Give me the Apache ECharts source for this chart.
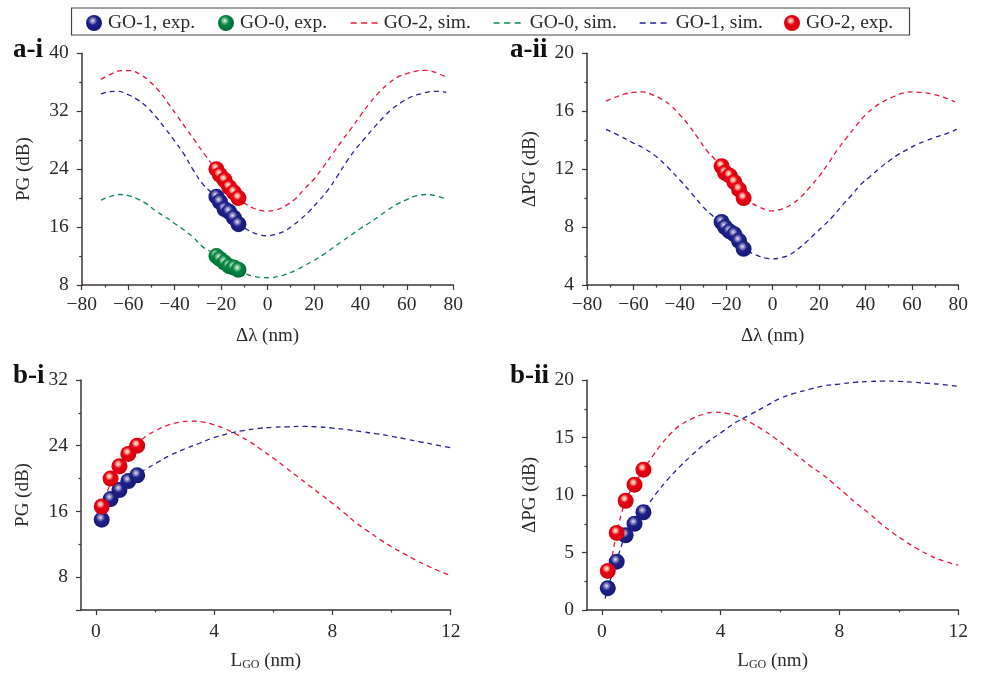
<![CDATA[<!DOCTYPE html>
<html><head><meta charset="utf-8">
<style>html,body{margin:0;padding:0;background:#fff}#c{width:981px;height:676px}</style>
<script src="https://cdn.jsdelivr.net/npm/echarts@6/dist/echarts.min.js"></script>
</head><body><div id="c"></div>
<script>
// ---- data read from the picture ----
const expDetuning = [-22, -20.5, -18.5, -16.5, -14.5, -12.5];
const expThickness = [0.2, 0.5, 0.8, 1.1, 1.4];

const aiGO2Exp = [24.0, 23.2, 22.5, 21.5, 20.8, 20.0];
const aiGO1Exp = [20.2, 19.5, 18.5, 18.1, 17.3, 16.4];
const aiGO0Exp = [12.0, 11.6, 11.1, 10.6, 10.4, 10.1];
const aiiGO2Exp = [12.2, 11.75, 11.55, 11.1, 10.6, 10.0];
const aiiGO1Exp = [8.35, 8.0, 7.7, 7.5, 7.05, 6.5];
const biGO2Exp = [16.6, 20.0, 21.5, 23.0, 24.0];
const biGO1Exp = [15.0, 17.5, 18.6, 19.7, 20.4];
const biiGO2Exp = [3.4, 6.7, 9.5, 10.9, 12.2];
const biiGO1Exp = [1.9, 4.2, 6.5, 7.5, 8.5];

const aiGO2Sim = [[-71.7,36.4],[-67,37.2],[-63,37.6],[-59,37.6],[-55,37.1],[-51,36.2],[-47,34.9],[-43,33.2],[-39,31.4],[-35,29.6],[-31,27.8],[-27,26],[-23,24.3],[-19,22.6],[-15,21],[-12,19.9],[-9,19.1],[-6,18.6],[-3,18.3],[0,18.2],[4,18.4],[8,19],[12,19.9],[16,21.3],[20,22.6],[24,24.3],[28,26.1],[32,27.9],[36,29.6],[40,31.4],[44,33.1],[48,34.6],[52,35.8],[56,36.7],[60,37.2],[64,37.55],[68,37.65],[72,37.4],[77,36.7]];
const aiGO1Sim = [[-71.7,34.4],[-68,34.7],[-64.5,34.75],[-60,34.3],[-56,33.6],[-52,32.6],[-48,31.2],[-44,29.6],[-40,27.9],[-36,26.1],[-32,23.9],[-28,22],[-24,20.7],[-22.3,20.2],[-20,19.3],[-16,17.8],[-12,16.4],[-9,15.7],[-6,15.2],[-3,14.9],[0,14.8],[3,14.95],[7,15.4],[10,16],[14,17],[18,18.2],[22,19.6],[26,21.1],[30,23],[34,25],[38,26.8],[42,28.3],[46,29.8],[50,31.2],[54,32.4],[58,33.3],[62,34],[66,34.4],[70,34.7],[73,34.75],[77,34.6]];
const aiGO0Sim = [[-71.7,19.7],[-68,20.2],[-63.5,20.5],[-60,20.35],[-56,19.9],[-52,19.2],[-48,18.2],[-44,17.4],[-40,16.5],[-36,15.6],[-32,14.6],[-28,13.3],[-24,12.5],[-22,12],[-18,11.1],[-14,10.5],[-12,10.1],[-9,9.5],[-6,9.2],[-3,9.05],[1,9],[5,9.2],[8,9.5],[12,10],[16,10.7],[20,11.4],[24,12.2],[28,13.1],[32,14],[36,14.9],[40,15.8],[44,16.6],[48,17.5],[52,18.4],[56,19.2],[60,19.8],[64,20.3],[68,20.5],[72,20.35],[77,19.9]];
const aiiGO2Sim = [[-71.8,16.7],[-68,16.95],[-64,17.18],[-60,17.3],[-56,17.33],[-52,17.15],[-48,16.85],[-44,16.4],[-40,15.75],[-36,15],[-32,14.1],[-28,13.2],[-25,12.7],[-22.7,12.2],[-19,11.6],[-16,11],[-12,10],[-9,9.65],[-6,9.4],[-3,9.2],[0,9.12],[4,9.25],[8,9.55],[12,10.05],[16,10.75],[20,11.5],[24,12.4],[28,13.35],[32,14.2],[36,15],[40,15.75],[44,16.3],[48,16.7],[52,17],[56,17.25],[60,17.33],[64,17.3],[68,17.2],[72,17.05],[78.6,16.65]];
const aiiGO1Sim = [[-71.8,14.75],[-66,14.3],[-60,13.8],[-55,13.4],[-50,12.85],[-45,12.1],[-40,11.25],[-35,10.35],[-30,9.4],[-26,8.8],[-22.7,8.35],[-18,7.6],[-15,7.1],[-12,6.5],[-9,6.2],[-6,6],[-3,5.85],[0,5.8],[4,5.9],[7.5,6.1],[11,6.5],[14.7,7],[18,7.5],[22,8.1],[26,8.75],[30,9.5],[34,10.2],[38,10.95],[42,11.5],[46,12.05],[50,12.55],[54,13],[58,13.35],[62,13.7],[66,13.95],[70,14.2],[75,14.45],[79.3,14.75]];
const biGO2Sim = [[0.2,16.4],[0.43,18.8],[0.8,21.6],[1.1,23.2],[1.4,24.3],[1.72,25.2],[2,25.8],[2.4,26.45],[2.8,26.85],[3.2,27],[3.6,26.9],[4,26.55],[4.4,26],[4.8,25.3],[5.2,24.5],[5.6,23.5],[6,22.5],[6.4,21.4],[6.8,20.3],[7.2,19.2],[7.6,18.1],[8,17],[8.4,15.8],[8.8,14.6],[9.2,13.6],[9.6,12.6],[10,11.7],[10.4,10.9],[10.8,10.1],[11.2,9.4],[11.6,8.75],[12,8.2]];
const biGO1Sim = [[0.2,15],[0.5,17.5],[0.8,18.6],[1.1,19.7],[1.4,20.6],[1.72,21.2],[2.1,22],[2.5,22.8],[3,23.6],[3.5,24.3],[4,25],[4.5,25.5],[5,25.85],[5.5,26.1],[6,26.25],[6.5,26.3],[7,26.35],[7.5,26.3],[8,26.15],[8.5,25.95],[9,25.7],[9.5,25.45],[10,25.15],[10.5,24.8],[11,24.45],[11.5,24.1],[12,23.75]];
const biiGO2Sim = [[0.2,3.2],[0.34,4.64],[0.5,6.7],[0.8,9.5],[1.1,10.9],[1.4,12.2],[1.74,13.5],[2,14.4],[2.3,15.3],[2.6,16],[3,16.6],[3.4,17],[3.8,17.2],[4.2,17.1],[4.6,16.8],[5,16.3],[5.4,15.7],[5.8,15],[6.2,14.2],[6.6,13.4],[7,12.55],[7.4,11.85],[7.8,11],[8.2,10.1],[8.6,9.2],[9,8.4],[9.4,7.5],[9.8,6.7],[10.2,6],[10.6,5.35],[11,4.8],[11.4,4.35],[12,3.9]];
const biiGO1Sim = [[0.11,1],[0.2,1.9],[0.5,4.3],[0.8,6.5],[1.1,7.6],[1.4,8.6],[1.85,10.2],[2.2,11.3],[2.6,12.4],[3,13.4],[3.5,14.5],[4,15.4],[4.5,16.3],[5,17],[5.5,17.7],[6,18.4],[6.5,18.85],[7,19.2],[7.5,19.5],[8,19.65],[8.5,19.8],[9,19.87],[9.5,19.9],[10,19.88],[10.5,19.8],[11,19.7],[11.5,19.6],[12,19.45]];

const detuningMajor = [-80,-60,-40,-20,0,20,40,60,80];
const detuningMinor = [-70,-50,-30,-10,10,30,50,70];
const thicknessMajor = [0,4,8,12];
const thicknessMinor = [2,6,10];

const legendNames = ['GO-1, exp.','GO-0, exp.','GO-2, sim.','GO-0, sim.','GO-1, sim.','GO-2, exp.'];

// ---- styling ----
const FONT = '"Liberation Serif","Times New Roman",serif';
const INK = '#2a2a2a', AXIS = '#3d3535';
const RED='#e60012', BLUE='#1d2088', GREEN='#00833f';
const redDash='#e6183a', blueDash='#24248e', greenDash='#0a8750';
const ballRed = {type:'radial',x:0.42,y:0.36,r:0.62,colorStops:[{offset:0,color:'#fdeee0'},{offset:0.2,color:'#f5a090'},{offset:0.42,color:RED},{offset:1,color:'#d4000f'}]};
const ballBlue = {type:'radial',x:0.42,y:0.36,r:0.62,colorStops:[{offset:0,color:'#e8e4f4'},{offset:0.2,color:'#8f8cc4'},{offset:0.46,color:BLUE},{offset:1,color:'#171a78'}]};
const ballGreen = {type:'radial',x:0.42,y:0.36,r:0.62,colorStops:[{offset:0,color:'#e6f2e8'},{offset:0.2,color:'#84c49a'},{offset:0.46,color:GREEN},{offset:1,color:'#007036'}]};

const pairs = (xs,ys)=>xs.map((x,i)=>[x,ys[i]]);
const grids = [
  {left:81.7,top:53.3,width:371.6,height:231.7},
  {left:587,top:53.3,width:371.3,height:231.7},
  {left:81,top:380,width:369.7,height:230},
  {left:587,top:380,width:371.3,height:230}
];
const lgoName = '{n|L}{s|GO}{n| (nm)}';
const xDefs = [
 {min:-80,max:80,major:detuningMajor,minor:detuningMinor,name:'Δλ (nm)'},
 {min:-80,max:80,major:detuningMajor,minor:detuningMinor,name:'Δλ (nm)'},
 {min:-0.5,max:12,major:thicknessMajor,minor:thicknessMinor,name:lgoName},
 {min:-0.5,max:12,major:thicknessMajor,minor:thicknessMinor,name:lgoName}
];
const yDefs = [
 {min:8,max:40,major:[8,16,24,32,40],minor:[12,20,28,36],name:'PG (dB)'},
 {min:4,max:20,major:[4,8,12,16,20],minor:[6,10,14,18],name:'ΔPG (dB)'},
 {min:4,max:32,major:[4,8,16,24,32],labels:[8,16,24,32],minor:[12,20,28],name:'PG (dB)'},
 {min:0,max:20,major:[0,5,10,15,20],minor:[2.5,7.5,12.5,17.5],name:'ΔPG (dB)'}
];
const fmtMinus = v => String(v).replace('-','\u2212');
const FS = 19.5;
const xAxis=[], yAxis=[];
xDefs.forEach((d,i)=>{
  xAxis.push({type:'value',gridIndex:i,position:'bottom',min:d.min,max:d.max,splitLine:{show:false},
    axisLine:{onZero:false,lineStyle:{color:AXIS,width:1.5}},
    axisTick:{customValues:d.major,length:5,inside:false,lineStyle:{color:AXIS,width:1.2}},
    axisLabel:{customValues:d.major,formatter:fmtMinus,color:INK,fontFamily:FONT,fontSize:FS,margin:i<2?10:12,hideOverlap:false,showMinLabel:true,showMaxLabel:true},
    name:d.name,nameLocation:'middle',nameGap:42,
    nameTextStyle:{color:INK,fontFamily:FONT,fontSize:19,
      rich:{n:{fontFamily:FONT,fontSize:19,color:INK},s:{fontFamily:FONT,fontSize:12,color:INK,verticalAlign:'bottom',padding:[7,0,0,0]}}}});
});
xDefs.forEach((d,i)=>{
  xAxis.push({type:'value',gridIndex:i,position:'bottom',min:d.min,max:d.max,splitLine:{show:false},
    axisLine:{show:false,onZero:false},axisLabel:{show:false},
    axisTick:{customValues:d.minor,length:2.5,lineStyle:{color:AXIS,width:1.2}}});
});
yDefs.forEach((d,i)=>{
  const lab = d.labels||d.major;
  yAxis.push({type:'value',gridIndex:i,position:'left',min:d.min,max:d.max,splitLine:{show:false},
    axisLine:{onZero:false,lineStyle:{color:AXIS,width:1.5}},
    axisTick:{customValues:d.major,length:5,lineStyle:{color:AXIS,width:1.2}},
    axisLabel:{customValues:lab,color:INK,fontFamily:FONT,fontSize:FS,margin:13,showMinLabel:true,showMaxLabel:true},
    name:d.name,nameLocation:'middle',nameGap:i%2?47:48,nameRotate:90,
    nameTextStyle:{color:INK,fontFamily:FONT,fontSize:19}});
});
yDefs.forEach((d,i)=>{
  yAxis.push({type:'value',gridIndex:i,position:'left',min:d.min,max:d.max,splitLine:{show:false},
    axisLine:{show:false,onZero:false},axisLabel:{show:false},
    axisTick:{customValues:d.minor,length:2.5,lineStyle:{color:AXIS,width:1.2}}});
});
const series=[];
for(let i=0;i<4;i++){
  series.push({type:'line',xAxisIndex:i+4,yAxisIndex:i+4,data:[],silent:true});
}
function sim(name,color,data,i){
  series.push({name,type:'line',xAxisIndex:i,yAxisIndex:i,data,smooth:0.4,showSymbol:false,symbol:'none',clip:false,z:2,
    lineStyle:{color,width:1.3,type:[5,4]},itemStyle:{color}});
}
function exp(name,fill,xs,ys,i){
  series.push({name,type:'scatter',xAxisIndex:i,yAxisIndex:i,data:pairs(xs,ys),symbol:'circle',symbolSize:16,clip:false,z:3,
    itemStyle:{color:fill,opacity:1}});
}
sim('GO-2, sim.',redDash,aiGO2Sim,0); sim('GO-1, sim.',blueDash,aiGO1Sim,0); sim('GO-0, sim.',greenDash,aiGO0Sim,0);
exp('GO-2, exp.',ballRed,expDetuning,aiGO2Exp,0); exp('GO-1, exp.',ballBlue,expDetuning,aiGO1Exp,0); exp('GO-0, exp.',ballGreen,expDetuning,aiGO0Exp,0);
sim('GO-2, sim.',redDash,aiiGO2Sim,1); sim('GO-1, sim.',blueDash,aiiGO1Sim,1);
exp('GO-2, exp.',ballRed,expDetuning,aiiGO2Exp,1); exp('GO-1, exp.',ballBlue,expDetuning,aiiGO1Exp,1);
sim('GO-2, sim.',redDash,biGO2Sim,2); sim('GO-1, sim.',blueDash,biGO1Sim,2);
exp('GO-1, exp.',ballBlue,expThickness,biGO1Exp,2); exp('GO-2, exp.',ballRed,expThickness,biGO2Exp,2);
sim('GO-2, sim.',redDash,biiGO2Sim,3); sim('GO-1, sim.',blueDash,biiGO1Sim,3);
exp('GO-1, exp.',ballBlue,expThickness,biiGO1Exp,3); exp('GO-2, exp.',ballRed,expThickness,biiGO2Exp,3);

const legendLeft=[86,218,350,493,639,784];
const legendWidth=[30,30,27,30,30,30];
const legend = legendNames.map((n,i)=>{
  const isExp = n.indexOf('exp')>=0;
  return {
    data:[isExp?{name:n}:{name:n,itemStyle:{opacity:0},lineStyle:{type:[6,4.5],width:1.3}}],
    left:legendLeft[i],top:13,itemWidth:legendWidth[i],itemHeight:isExp?16:14,itemGap:0,padding:0,selectedMode:false,
    textStyle:{color:INK,fontFamily:FONT,fontSize:FS,padding:[1,0,0,isExp?-6:1]}
  };
});
const panelTitles=[['a-i',13,37],['a-ii',510,37],['b-i',13,363],['b-ii',510,363]];
const title = panelTitles.map(([text,left,top])=>({text,left,top,padding:0,
  textStyle:{fontFamily:FONT,fontSize:27,fontWeight:'bold',color:'#111'}}));

const chart = echarts.init(document.getElementById('c'),null,{renderer:'canvas'});
chart.setOption({animation:false,backgroundColor:'#fff',title,legend,grid:grids,xAxis,yAxis,series,
  graphic:[{type:'rect',z:-1,shape:{x:71.5,y:8,width:838,height:27},style:{fill:'#fff',stroke:'#444',lineWidth:1.2}}]});
</script></body></html>]]>
